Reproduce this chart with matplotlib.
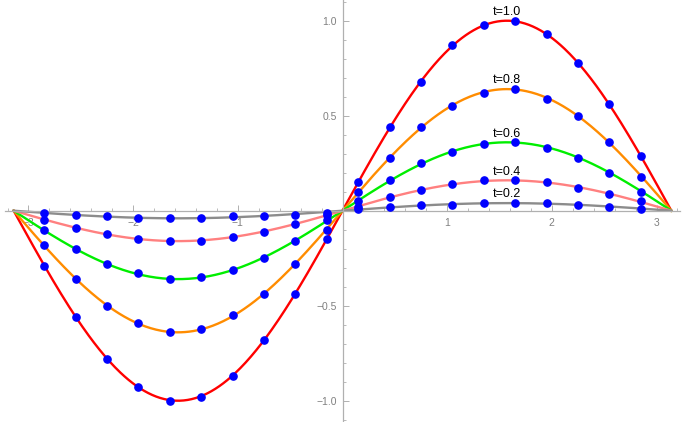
import numpy as np
import matplotlib.pyplot as plt
from matplotlib.ticker import MultipleLocator, FixedLocator

plt.rcParams['font.family'] = ['Liberation Sans', 'DejaVu Sans']

# labels of the curves and their peak heights
labels = ["t=1.0", "t=0.8", "t=0.6", "t=0.4", "t=0.2"]
peaks = [1.0, 0.64, 0.36, 0.16, 0.04]
colors = ["#ff0000", "#ff8c00", "#00ee00", "#ff8080", "#8c8c8c"]

# x positions of the blue sample points
dot_x = [-2.85, -2.55, -2.25, -1.95, -1.65, -1.35, -1.05, -0.75, -0.45, -0.15,
         0.15, 0.45, 0.75, 1.05, 1.35, 1.65, 1.95, 2.25, 2.55, 2.85]

# y values of the sample points, one list per curve
dots_10 = [-0.29, -0.56, -0.78, -0.93, -1.00, -0.98, -0.87, -0.68, -0.44, -0.15,
           0.15, 0.44, 0.68, 0.87, 0.98, 1.00, 0.93, 0.78, 0.56, 0.29]
dots_08 = [-0.18, -0.36, -0.50, -0.59, -0.64, -0.62, -0.55, -0.44, -0.28, -0.10,
           0.10, 0.28, 0.44, 0.55, 0.62, 0.64, 0.59, 0.50, 0.36, 0.18]
dots_06 = [-0.10, -0.20, -0.28, -0.33, -0.36, -0.35, -0.31, -0.25, -0.16, -0.05,
           0.05, 0.16, 0.25, 0.31, 0.35, 0.36, 0.33, 0.28, 0.20, 0.10]
dots_04 = [-0.05, -0.09, -0.12, -0.15, -0.16, -0.16, -0.14, -0.11, -0.07, -0.02,
           0.02, 0.07, 0.11, 0.14, 0.16, 0.16, 0.15, 0.12, 0.09, 0.05]
dots_02 = [-0.01, -0.02, -0.03, -0.04, -0.04, -0.04, -0.03, -0.03, -0.02, -0.01,
           0.01, 0.02, 0.03, 0.03, 0.04, 0.04, 0.04, 0.03, 0.02, 0.01]
all_dots = [dots_10, dots_08, dots_06, dots_04, dots_02]

fig = plt.figure(figsize=(6.85, 4.22), dpi=100)
ax = fig.add_axes([0, 0, 1, 1])
ax.set_xlim(-3.272, 3.272)
ax.set_ylim(-1.112, 1.109)

# curves: sine shape scaled to the peak height
xs = np.linspace(-np.pi, np.pi, 500)
for lab, p, c, d in zip(labels, peaks, colors, all_dots):
    ax.plot(xs, p * np.sin(xs), color=c, lw=1.7, zorder=2)
    ax.plot(dot_x, d, "o", color="#0000ff", ms=5.2, zorder=3)
    ax.annotate(lab, xy=(np.pi / 2, p), xytext=(0, 2), textcoords="offset points",
                ha="center", va="bottom", fontsize=9, color="black", zorder=4)

# Mathematica style axes through the origin
for side in ["top", "right"]:
    ax.spines[side].set_visible(False)
ax.spines["left"].set_position(("data", 0))
ax.spines["bottom"].set_position(("data", 0))
ax.spines["bottom"].set_bounds(-3.22, 3.22)
for s in ["left", "bottom"]:
    ax.spines[s].set_color("#b0b0b0")
    ax.spines[s].set_linewidth(0.9)

ax.xaxis.set_major_locator(FixedLocator([-3, -2, -1, 1, 2, 3]))
ax.xaxis.set_minor_locator(MultipleLocator(0.2))
ax.yaxis.set_major_locator(FixedLocator([-1.0, -0.5, 0.5, 1.0]))
ax.yaxis.set_minor_locator(MultipleLocator(0.1))
ax.set_xticklabels(["\u22123", "\u22122", "\u22121", "1", "2", "3"])
ax.set_yticklabels(["\u22121.0", "\u22120.5", "0.5", "1.0"])

ax.tick_params(axis="x", which="both", direction="in", color="#b0b0b0",
               labelsize=7.5, labelcolor="#808080", pad=5)
ax.tick_params(axis="y", which="both", direction="in", color="#b0b0b0",
               labelsize=7.5, labelcolor="#808080", pad=4)
ax.tick_params(which="major", length=4, width=0.7)
ax.tick_params(which="minor", length=2, width=0.6)

fig.savefig("out.png", dpi=100)
plt.close(fig)
